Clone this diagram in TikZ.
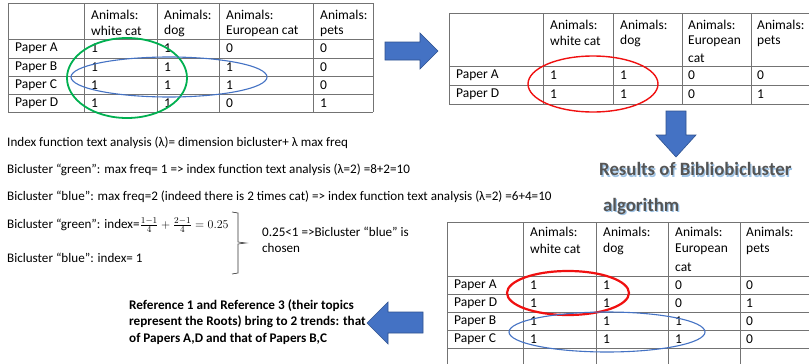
\documentclass[tikz,border=0pt]{standalone}
\usepackage{fontspec}
\setmainfont{Carlito}
\definecolor{bblue}{HTML}{4472C4}
\definecolor{bbluedark}{HTML}{2F528F}
\definecolor{ggreen}{HTML}{00B050}
\definecolor{rred}{HTML}{F01010}
\definecolor{glow}{HTML}{9DC3E6}
\definecolor{titlegray}{HTML}{555555}
\newcommand\glowtext[1]{\leavevmode
  \rlap{\kern1.2pt\raisebox{-1.2pt}{\textcolor{glow}{#1}}}\textcolor{titlegray}{#1}}
\begin{document}
\begin{tikzpicture}[x=1pt,y=-1pt,
  tline/.style={draw=black!55, line width=0.6pt},
  cell/.style={anchor=west, inner sep=0pt, font=\fontsize{13.5}{16}\selectfont},
  txt/.style={anchor=west, inner sep=0pt, font=\fontsize{13.1}{16}\selectfont},
  bigarrow/.style={fill=bblue, draw=bbluedark, line width=0.6pt},
  ttl/.style={anchor=west, inner sep=0pt, font=\fontsize{18.8}{20}\selectfont\bfseries}]
\useasboundingbox (0,0) rectangle (809,364);
\fill[white] (0,0) rectangle (809,364);

% ---------- Table 1 ----------
\foreach \x in {8,84,157,219,313,373} \draw[tline] (\x,3) -- (\x,112);
\foreach \y in {3,39,58,76,94,112} \draw[tline] (8,\y) -- (373,\y);
\foreach \x/\a/\b [count=\i] in {91/Animals:/white cat,164/Animals:/dog,226/Animals:/European cat,320/Animals:/pets}{
  \node[cell] (ta-h\i a) at (\x,15) {\a};
  \node[cell] (ta-h\i b) at (\x,31) {\b};
}
\foreach \y/\p/\c/\d/\e/\f [count=\i] in {48/Paper A/1/1/0/0,67/Paper B/1/1/1/0,85/Paper C/1/1/1/0,103/Paper D/1/1/0/1}{
  \node[cell] (ta-r\i) at (15,\y) {\p};
  \node[cell] (ta-r\i c1) at (91,\y) {\c};
  \node[cell] (ta-r\i c2) at (164,\y) {\d};
  \node[cell] (ta-r\i c3) at (226,\y) {\e};
  \node[cell] (ta-r\i c4) at (320,\y) {\f};
}
\draw[ggreen, line width=1.8pt] (127,78) ellipse [x radius=60, y radius=40];
\draw[bblue, line width=1.1pt] (169,77) ellipse [x radius=98, y radius=20];

% ---------- Table 2 ----------
\foreach \x in {449,543,613,682,751} \draw[tline] (\x,13) -- (\x,104);
\foreach \y in {13,66,85,104} \draw[tline] (449,\y) -- (809,\y);
\foreach \x/\a/\b/\c [count=\i] in {550/Animals:/white cat/,620/Animals:/dog/,688/Animals:/European/cat,757/Animals:/pets/}{
  \node[cell] (tb-h\i a) at (\x,25) {\a};
  \node[cell] (tb-h\i b) at (\x,41) {\b};
  \node[cell] (tb-h\i c) at (\x,58) {\c};
}
\foreach \y/\p/\c/\d/\e/\f [count=\i] in {75.5/Paper A/1/1/0/0,94.5/Paper D/1/1/0/1}{
  \node[cell] (tb-r\i) at (456,\y) {\p};
  \node[cell] (tb-r\i c1) at (550,\y) {\c};
  \node[cell] (tb-r\i c2) at (620,\y) {\d};
  \node[cell] (tb-r\i c3) at (688,\y) {\e};
  \node[cell] (tb-r\i c4) at (757,\y) {\f};
}
\draw[rred, line width=1.4pt] (593,84) ellipse [x radius=65, y radius=28];

% ---------- Table 3 ----------
\foreach \x in {447,523,596,668,740} \draw[tline] (\x,222) -- (\x,364);
\foreach \y in {222,276,294,312,330,348} \draw[tline] (447,\y) -- (809,\y);
\foreach \x/\a/\b/\c [count=\i] in {530/Animals:/white cat/,603/Animals:/dog/,675/Animals:/European/cat,746/Animals:/pets/}{
  \node[cell] (tc-h\i a) at (\x,232) {\a};
  \node[cell] (tc-h\i b) at (\x,249) {\b};
  \node[cell] (tc-h\i c) at (\x,267) {\c};
}
\foreach \y/\p/\c/\d/\e/\f [count=\i] in {285/Paper A/1/1/0/0,303/Paper D/1/1/0/1,321/Paper B/1/1/1/0,339/Paper C/1/1/1/0}{
  \node[cell] (tc-r\i) at (454,\y) {\p};
  \node[cell] (tc-r\i c1) at (530,\y) {\c};
  \node[cell] (tc-r\i c2) at (603,\y) {\d};
  \node[cell] (tc-r\i c3) at (675,\y) {\e};
  \node[cell] (tc-r\i c4) at (746,\y) {\f};
}
\draw[rred, line width=2.2pt] (568,293) ellipse [x radius=61, y radius=22];
\draw[bblue, line width=1.1pt] (607,332) ellipse [x radius=98, y radius=20];

% ---------- Arrows ----------
\draw[bigarrow] (385,42) -- (420,42) -- (420,33) -- (438,51) -- (420,69) -- (420,60) -- (385,60) -- cycle;
\draw[bigarrow] (666,111) -- (686,111) -- (686,135) -- (696,135) -- (676,157) -- (656,135) -- (666,135) -- cycle;
\draw[bigarrow] (423,312) -- (388,312) -- (388,302) -- (367,323) -- (388,344) -- (388,333) -- (423,333) -- cycle;

% ---------- Title with glow ----------
\node[ttl] (title1) at (599,170) {\glowtext{Results of Bibliobicluster}};
\node[ttl] (title2) at (603,207) {\glowtext{algorithm}};

% ---------- Left text ----------
\node[txt] (l1) at (7,143) {Index function text analysis (λ)= dimension bicluster+ λ max freq};
\node[txt] (l2) at (7,170) {Bicluster “green”: max freq= 1 => index function text analysis (λ=2) =8+2=10};
\node[txt] (l3) at (7,197) {Bicluster “blue”: max freq=2 (indeed there is 2 times cat) => index function text analysis (λ=2) =6+4=10};
\node[txt] (l4) at (7,225) {Bicluster “green”: index=$\frac{1-1}{4}+\frac{2-1}{4}=0.25$};
\node[txt] (l5) at (7,258) {Bicluster “blue”: index= 1};
\draw[black!80, line width=0.6pt] (232,212) -- (238,213) -- (238,242) -- (246,243) -- (238,244) -- (238,273) -- (232,274);
\node[txt, anchor=north west, align=left] (l6) at (262,227) {0.25<1 =>Bicluster “blue” is\\chosen};

% ---------- Conclusion ----------
\node[anchor=north west, inner sep=0pt, align=left, font=\fontsize{13.2}{16.5}\selectfont\bfseries] (concl) at (129,299)
  {Reference 1 and Reference 3 (their topics\\represent the Roots) bring to 2 trends: that\\of Papers A,D and that of Papers B,C};
\end{tikzpicture}
\end{document}
